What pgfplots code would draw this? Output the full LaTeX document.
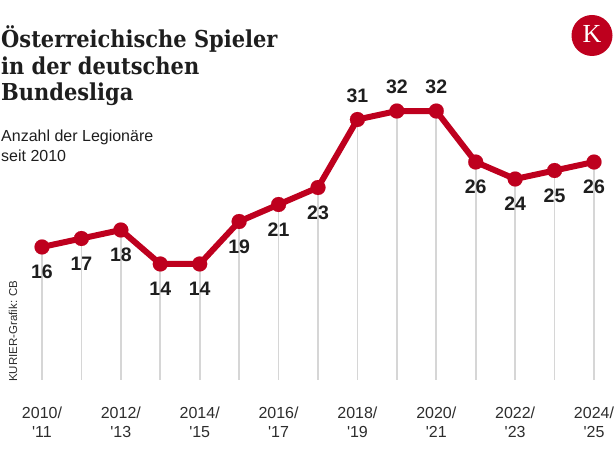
\documentclass[border=0pt]{standalone}
\usepackage{fontspec}
\setmainfont{Liberation Sans}
\newfontfamily\titlefont{DejaVu Serif Condensed}
\newfontfamily\logofont{Liberation Serif}
\usepackage{pgfplots}
\pgfplotsset{compat=1.18}
\usepackage{pgfplotstable}
\definecolor{kred}{RGB}{190,0,30}
\definecolor{dropgray}{RGB}{214,214,214}
\definecolor{txt}{RGB}{30,30,30}
\definecolor{xcol}{RGB}{45,45,45}
\pgfplotstableread{
x y off
0 16 -25
1 17 -25
2 18 -25
3 14 -25
4 14 -25
5 19 -25
6 21 -25
7 23 -25
8 31 24
9 32 24
10 32 24
11 26 -25
12 24 -25
13 25 -25
14 26 -25
}\datatable
\begin{document}
\begin{tikzpicture}
\path[use as bounding box] (0pt,0pt) rectangle (616pt,455pt);
% title
\node[anchor=base west, inner sep=0pt, text=txt] at (1pt,407pt) {\titlefont\bfseries\fontsize{23.3}{27}\selectfont Österreichische Spieler};
\node[anchor=base west, inner sep=0pt, text=txt] at (1pt,380.5pt) {\titlefont\bfseries\fontsize{23.3}{27}\selectfont in der deutschen};
\node[anchor=base west, inner sep=0pt, text=txt] at (1pt,354pt) {\titlefont\bfseries\fontsize{23.3}{27}\selectfont Bundesliga};
\node[anchor=base west, inner sep=0pt, text=txt] at (1pt,313pt) {\fontsize{16}{20}\selectfont Anzahl der Legionäre};
\node[anchor=base west, inner sep=0pt, text=txt] at (1pt,293pt) {\fontsize{16}{20}\selectfont seit 2010};
% logo
\fill[kred] (592pt,419.5pt) circle (20.5pt);
\node[text=white, inner sep=0pt] at (592pt,421pt) {\logofont\fontsize{26}{26}\selectfont K};
% source
\node[rotate=90, anchor=base west, inner sep=0pt, text=xcol] at (17pt,73pt) {\fontsize{11.5}{13}\selectfont KURIER-Grafik: CB};
\begin{axis}[at={(42pt,75pt)}, anchor=south west, scale only axis,
  width=552pt, height=300pt,
  xmin=0, xmax=14, ymin=0.35, ymax=35.65, clip=false,
  axis line style={draw=none}, major tick length=0pt,
  ytick=\empty, xtick={0,2,...,14},
  xticklabels={{2010/\\\textquotesingle 11},{2012/\\\textquotesingle 13},{2014/\\\textquotesingle 15},{2016/\\\textquotesingle 17},{2018/\\\textquotesingle 19},{2020/\\\textquotesingle 21},{2022/\\\textquotesingle 23},{2024/\\\textquotesingle 25}},
  xticklabel style={align=center, font=\fontsize{16}{19}\selectfont, text=xcol, anchor=north, inner sep=0pt, yshift=-26.5pt},
]
\addplot[ycomb, draw=dropgray, line width=1.8pt, mark=none] table[x=x,y=y]{\datatable};
\addplot[kred, line width=6pt, line join=round, mark=*, mark size=7.5pt, mark options={fill=kred, draw=kred, line width=0.1pt}] table[x=x,y=y]{\datatable};
\addplot[draw=none, mark=none, nodes near coords, point meta=explicit symbolic,
  visualization depends on={\thisrow{off}\as\off},
  nodes near coords style={anchor=center, inner sep=0pt, yshift=\off pt, font=\bfseries\fontsize{19.5}{21}\selectfont, text=txt}]
  table[x=x,y=y,meta=y]{\datatable};
\end{axis}
\end{tikzpicture}
\end{document}
